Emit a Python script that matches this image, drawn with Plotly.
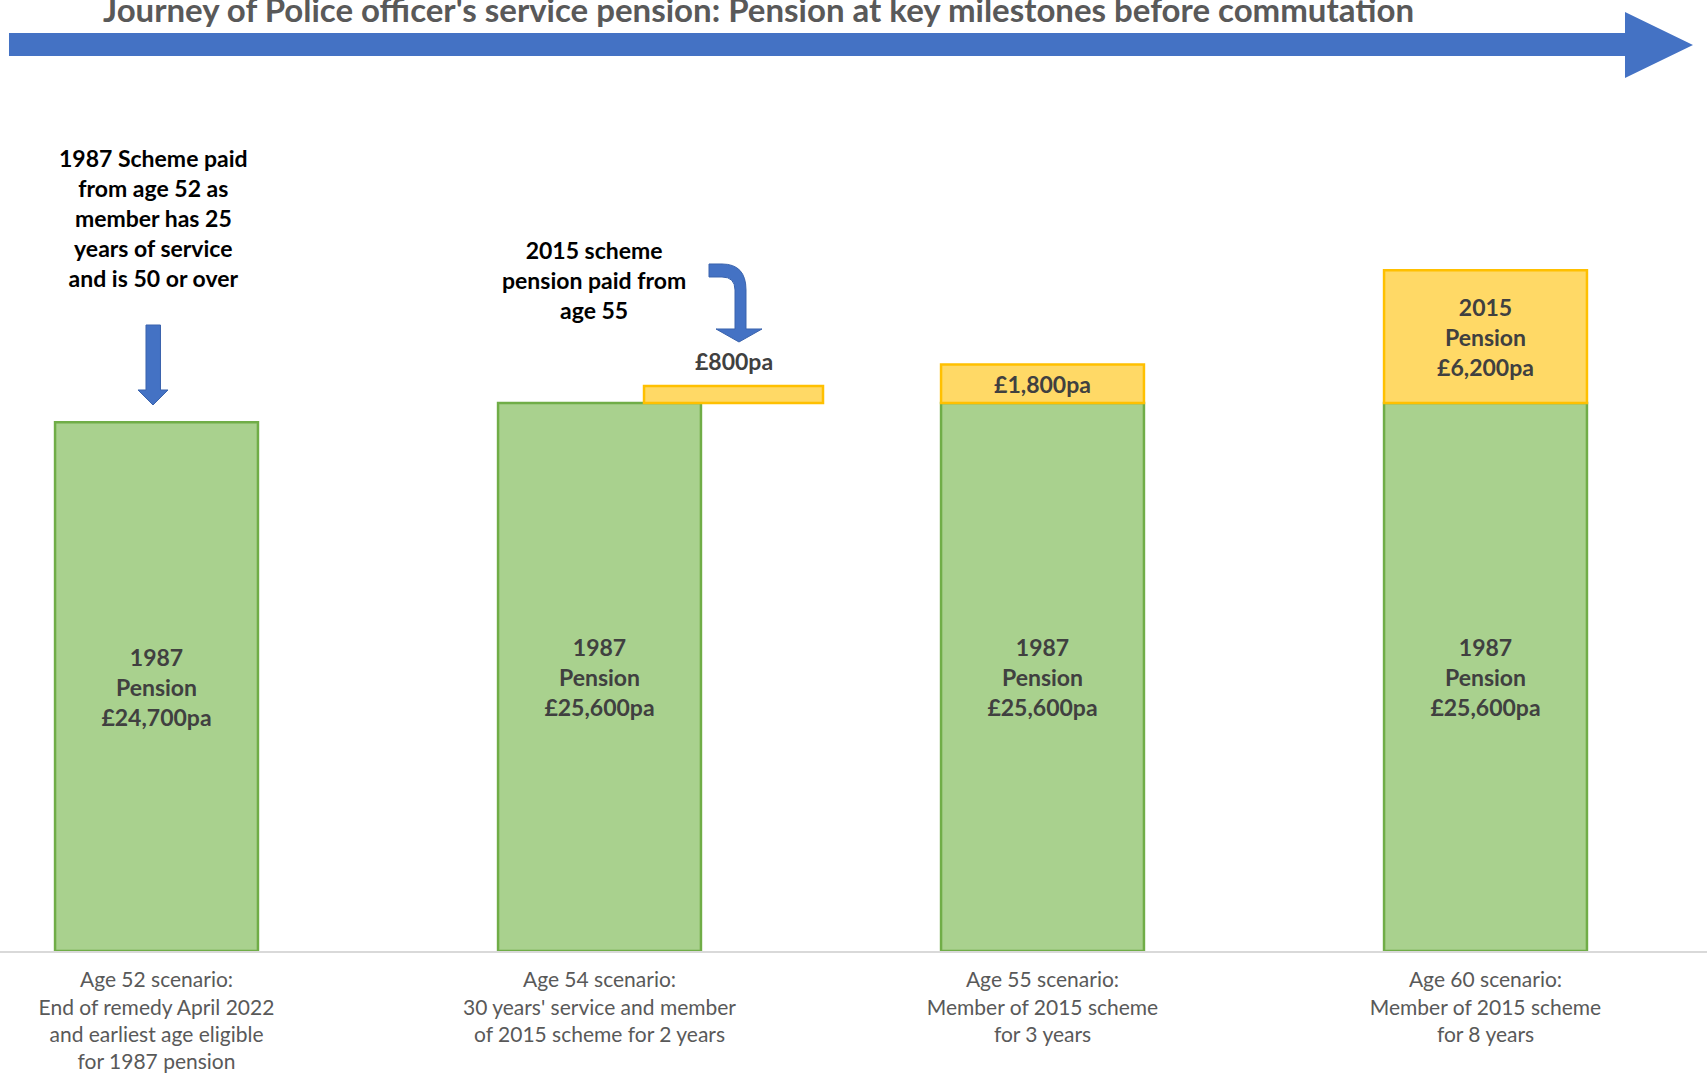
import plotly.graph_objects as go

# ---- data ----
scenario_labels = [
    "Age 52 scenario:<br>End of remedy April 2022<br>and earliest age eligible<br>for 1987 pension",
    "Age 54 scenario:<br>30 years' service and member<br>of 2015 scheme for 2 years",
    "Age 55 scenario:<br>Member of 2015 scheme<br>for 3 years",
    "Age 60 scenario:<br>Member of 2015 scheme<br>for 8 years",
]
scenario_pos = [0, 1, 2, 3]
pension_1987 = [24700, 25600, 25600, 25600]
pension_2015_stacked_pos = [2, 3]
pension_2015_stacked = [1800, 6200]
pension_2015_stacked_text = ["£1,800pa", "2015<br>Pension<br>£6,200pa"]
pension_2015_side_pos = [1]
pension_2015_side = [800]
title_text = "Journey of Police officer's service pension: Pension at key milestones before commutation"
note_1987 = "1987 Scheme paid<br>from age 52 as<br>member has 25<br>years of service<br>and is 50 or over"
note_2015 = "2015 scheme<br>pension paid from<br>age 55"

# ---- layout geometry helpers (pixels -> paper) ----
W, H = 1707, 1081
PLOT_H = 951
def px(x):
    return x / W
def py(y):
    return 1 - y / PLOT_H
def path(points):
    parts = []
    for cmd, *xy in points:
        if cmd == "Q":
            parts.append(f"Q{px(xy[0]):.5f},{py(xy[1]):.5f} {px(xy[2]):.5f},{py(xy[3]):.5f}")
        else:
            parts.append(f"{cmd}{px(xy[0]):.5f},{py(xy[1]):.5f}")
    return " ".join(parts) + " Z"

GREEN_FILL, GREEN_LINE = "#A9D18E", "#70AD47"
YELLOW_FILL, YELLOW_LINE = "#FFD966", "#FFC000"
BLUE = "#4472C4"
FONT = "Lato"
BAR_W = 0.458
SIDE_OFFSET, SIDE_W = 0.1005, 0.404
LABEL_FONT = dict(family=FONT, size=23, color="#404040", weight="bold")

fig = go.Figure()

fig.add_trace(go.Bar(
    x=scenario_pos, y=pension_1987, width=BAR_W,
    marker=dict(color=GREEN_FILL, line=dict(color=GREEN_LINE, width=2.5)),
    text=[f"1987<br>Pension<br>£{v:,}pa" for v in pension_1987],
    textposition="inside", insidetextanchor="middle", textangle=0,
    constraintext="none", textfont=LABEL_FONT, hoverinfo="skip",
))

base_stacked = [pension_1987[scenario_pos.index(p)] for p in pension_2015_stacked_pos]
fig.add_trace(go.Bar(
    x=pension_2015_stacked_pos, y=pension_2015_stacked, base=base_stacked, width=BAR_W,
    marker=dict(color=YELLOW_FILL, line=dict(color=YELLOW_LINE, width=2.5)),
    text=pension_2015_stacked_text,
    textposition="inside", insidetextanchor="middle", textangle=0,
    constraintext="none", textfont=LABEL_FONT, hoverinfo="skip",
))

base_side = [pension_1987[scenario_pos.index(p)] for p in pension_2015_side_pos]
fig.add_trace(go.Bar(
    x=pension_2015_side_pos, y=pension_2015_side, base=base_side,
    width=SIDE_W, offset=SIDE_OFFSET,
    marker=dict(color=YELLOW_FILL, line=dict(color=YELLOW_LINE, width=2.5)),
    hoverinfo="skip",
))

shapes = [
    # main timeline arrow
    dict(type="path", xref="paper", yref="paper", layer="above",
         path=path([("M", 9, 33), ("L", 1625, 33), ("L", 1625, 12), ("L", 1693, 45),
                    ("L", 1625, 78), ("L", 1625, 56), ("L", 9, 56)]),
         fillcolor=BLUE, line=dict(width=0)),
    # down arrow to first bar
    dict(type="path", xref="paper", yref="paper", layer="above",
         path=path([("M", 146, 325), ("L", 160.5, 325), ("L", 160.5, 390), ("L", 168, 390),
                    ("L", 153, 405), ("L", 138, 390), ("L", 146, 390)]),
         fillcolor=BLUE, line=dict(color="#3A63AD", width=1)),
    # curved arrow to the 2015 bar
    dict(type="path", xref="paper", yref="paper", layer="above",
         path=path([("M", 709, 264), ("L", 722, 264), ("Q", 746, 264, 746, 290),
                    ("L", 746, 329), ("L", 762, 329), ("L", 739, 342), ("L", 716, 329),
                    ("L", 735, 329), ("L", 735, 290), ("Q", 735, 277, 722, 277),
                    ("L", 709, 277)]),
         fillcolor=BLUE, line=dict(color="#3A63AD", width=1)),
]

annotations = [
    dict(text=title_text, xref="paper", yref="paper", x=px(758), y=py(9),
         xanchor="center", yanchor="middle", showarrow=False,
         font=dict(family=FONT, size=33, color="#595959", weight="bold")),
    dict(text=note_1987, xref="paper", yref="paper", x=px(153.5), y=py(218),
         xanchor="center", yanchor="middle", showarrow=False, align="center",
         font=dict(family=FONT, size=23, color="#000000", weight="bold")),
    dict(text=note_2015, xref="paper", yref="paper", x=px(594), y=py(280),
         xanchor="center", yanchor="middle", showarrow=False, align="center",
         font=dict(family=FONT, size=23, color="#000000", weight="bold")),
]
# value label above the side 2015 bar
for p, v, b in zip(pension_2015_side_pos, pension_2015_side, base_side):
    annotations.append(dict(
        text=f"£{v:,}pa", xref="x", yref="y", x=p + SIDE_OFFSET + SIDE_W / 2, y=b + v,
        xanchor="center", yanchor="bottom", yshift=9, showarrow=False, font=LABEL_FONT))

fig.update_layout(
    width=W, height=H,
    margin=dict(l=0, r=0, t=0, b=H - PLOT_H, pad=0),
    paper_bgcolor="white", plot_bgcolor="white",
    barmode="overlay", showlegend=False,
    shapes=shapes, annotations=annotations,
    xaxis=dict(range=[-0.3533, 3.5], tickvals=scenario_pos, ticktext=scenario_labels,
               showgrid=False, zeroline=False, showline=True, linecolor="#D9D9D9",
               linewidth=2, ticks="", ticklabelstandoff=9,
               tickfont=dict(family=FONT, size=21, color="#595959"),
               fixedrange=True),
    yaxis=dict(range=[0, 44430], visible=False, showgrid=False, zeroline=False,
               fixedrange=True),
    font=dict(family=FONT),
)

fig.write_html("out.html", config={"displayModeBar": False},
               post_script="document.body.style.margin='0';")
